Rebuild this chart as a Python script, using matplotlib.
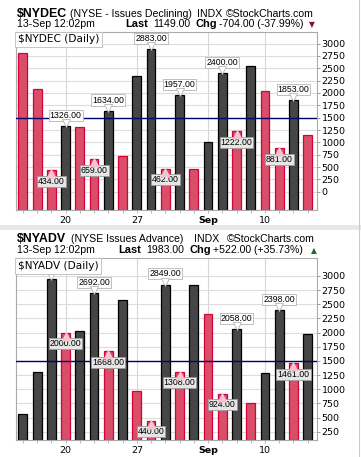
import matplotlib
matplotlib.use("Agg")
import matplotlib.pyplot as plt
from matplotlib.transforms import offset_copy
from matplotlib.patches import Rectangle
from matplotlib.lines import Line2D

# ---------------- data ----------------
dates_ticks_pos = [3, 8, 13, 17]
date_tick_labels = ["20", "27", "Sep", "10"]

dec_values = [2800, 2090, 434, 1326, 1305, 659, 1634, 730, 2340, 2883, 462,
              1957, 455, 1000, 2400, 1222, 2555, 2030, 881, 1853, 1149]
dec_dirs = "RRRBRRBRBBRBRBBRBRRBR"
dec_peaks = [3, 6, 9, 11, 14, 19]
dec_troughs = [2, 5, 10, 15, 18]
dec_hidden = []

adv_values = [556, 1300, 2940, 2000, 2035, 2692, 1668, 2570, 963, 440, 2849,
              1308, 2840, 2330, 924, 2058, 750, 1280, 2398, 1461, 1983]
adv_dirs = "BBBRBBRBRRBRBRRBRBBRB"
adv_peaks = [5, 10, 15, 18]
adv_troughs = [3, 6, 9, 11, 14, 19]
adv_hidden = [2]   # peak whose label is covered by the legend box

dec_yticks = list(range(0, 3001, 250))
adv_yticks = list(range(250, 3001, 250))

W, H = 361, 457
fig = plt.figure(figsize=(W / 100, H / 100), dpi=100)
fig.patch.set_facecolor("white")

def px(x, y):
    return x / W, 1 - y / H

def add_axes(x0, y0, x1, y1):
    return fig.add_axes([x0 / W, 1 - y1 / H, (x1 - x0) / W, (y1 - y0) / H])

RED_FC, RED_EC = "#d94f69", "#d3003a"
BLK_FC, BLK_EC = "#464646", "#000000"

def panel(ax, values, dirs, ylim, yticks, peaks, troughs, hidden, legend):
    n = len(values)
    xs = list(range(n))
    ymin = ylim[0]
    fcs = [RED_FC if d == "R" else BLK_FC for d in dirs]
    ecs = [RED_EC if d == "R" else BLK_EC for d in dirs]
    ax.bar(xs, [v - ymin for v in values], bottom=ymin, width=0.62,
           color=fcs, edgecolor=ecs, linewidth=0.9, zorder=2)
    ax.set_xlim(-0.46, n - 1 + 0.63)
    ax.set_ylim(*ylim)
    ax.axhline(1500, color="#000066", lw=1.0, zorder=3)

    ax.set_yticks(yticks)
    ax.set_yticklabels([str(t) for t in yticks])
    ax.yaxis.tick_right()
    ax.tick_params(axis="y", which="major", direction="out", length=2.5,
                   width=0.6, color="#888888", pad=1, labelsize=6.8,
                   labelcolor="black")
    ax.set_xticks(dates_ticks_pos)
    ax.set_xticklabels(date_tick_labels)
    for lab in ax.get_xticklabels():
        if lab.get_text() == "Sep":
            lab.set_fontweight("bold")
    ax.set_xticks(xs, minor=True)
    ax.tick_params(axis="x", which="both", direction="out", length=2,
                   width=0.6, color="#aaaaaa", pad=2, labelsize=6.8)
    ax.grid(True, axis="y", color="#dddddd", lw=0.8, zorder=0)
    ax.grid(True, axis="x", which="major", color="#d6d6d6", lw=0.8, zorder=0)
    ax.set_axisbelow(True)
    for s in ax.spines.values():
        s.set_color("#aaaaaa")
        s.set_linewidth(0.8)

    up = offset_copy(ax.transData, fig=fig, x=0, y=3, units="dots")
    dn = offset_copy(ax.transData, fig=fig, x=0, y=-3, units="dots")
    for i in peaks:
        v = values[i]
        ax.annotate(f"{v:.2f}", xy=(i, v), xytext=(0, 11),
                    textcoords="offset pixels", ha="center", va="center",
                    fontsize=6.3, family="Liberation Sans", zorder=5,
                    bbox=dict(boxstyle="square,pad=0.12", fc="white",
                              ec="#b5b5b5", lw=0.6))
    for i in peaks + hidden:
        v = values[i]
        ax.plot([i], [v], marker="v", ms=6, mfc="white", mec="#b5b5b5",
                mew=0.6, transform=up, zorder=6, clip_on=False)
    for i in troughs:
        v = values[i]
        ax.annotate(f"{v:.2f}", xy=(i, v), xytext=(0, -11),
                    textcoords="offset pixels", ha="center", va="center",
                    fontsize=6.3, family="Liberation Sans", zorder=5,
                    bbox=dict(boxstyle="square,pad=0.12", fc="#e6e6e6",
                              ec="#9a9a9a", lw=0.6))
        ax.plot([i], [v], marker="^", ms=6.5, mfc="#f4c4d1", mec="none",
                transform=dn, zorder=6)
    ax.text(0.006, 0.985, legend, transform=ax.transAxes, ha="left",
            va="top", fontsize=7.6, zorder=10,
            bbox=dict(boxstyle="square,pad=0.25", fc="white", ec="#bbbbbb",
                      lw=0.6))

ax1 = add_axes(16.3, 31.5, 316.7, 210)
panel(ax1, dec_values, dec_dirs, (-370, 3245), dec_yticks, dec_peaks,
      dec_troughs, dec_hidden, "$NYDEC (Daily)")
ax2 = add_axes(16.3, 258.3, 316.7, 440)
panel(ax2, adv_values, adv_dirs, (103, 3312), adv_yticks, adv_peaks,
      adv_troughs, adv_hidden, "$NYADV (Daily)")

# separator and border
fig.patches.append(Rectangle(px(0, 230), 1, 5 / H, transform=fig.transFigure,
                             fc="#e8e8e8", ec="none", zorder=0))
fig.lines.append(Line2D([358.5 / W, 358.5 / W], [0, 1], transform=fig.transFigure,
                        color="#cccccc", lw=0.8))

TF = "Liberation Sans"

def t(x, y, s, size=7.6, weight="normal", color="black", family=TF):
    fig.text(*px(x, y), s, fontsize=size, fontweight=weight, color=color,
             family=family, ha="left", va="baseline")

# top header
t(16.7, 16.7, "$NYDEC", size=8.9, weight="bold")
t(70.5, 16.7, "(NYSE - Issues Declining)")
t(197, 16.7, "INDX")
t(226, 16.7, "\u00a9StockCharts.com")
t(16.7, 27.0, "13-Sep 12:02pm")
t(125, 27.0, "Last", weight="bold", size=7.9)
t(153.5, 27.0, "1149.00")
t(196, 27.0, "Chg", weight="bold", size=7.9)
t(219.3, 27.0, "-704.00 (-37.99%)")
t(308.5, 27.0, "\u25bc", size=5.5, color="#8b0f2a", family="DejaVu Sans")

# bottom header
t(16.7, 242.3, "$NYADV", size=8.9, weight="bold")
t(71, 242.3, "(NYSE Issues Advance)")
t(194, 242.3, "INDX")
t(226.7, 242.3, "\u00a9StockCharts.com")
t(16.7, 253.3, "13-Sep 12:02pm")
t(118.3, 253.3, "Last", weight="bold", size=7.9)
t(146.5, 253.3, "1983.00")
t(190, 253.3, "Chg", weight="bold", size=7.9)
t(212.7, 253.3, "+522.00 (+35.73%)")
t(310.5, 253.3, "\u25b2", size=5.5, color="#1f6b2a", family="DejaVu Sans")

fig.savefig("out.png", dpi=100)
